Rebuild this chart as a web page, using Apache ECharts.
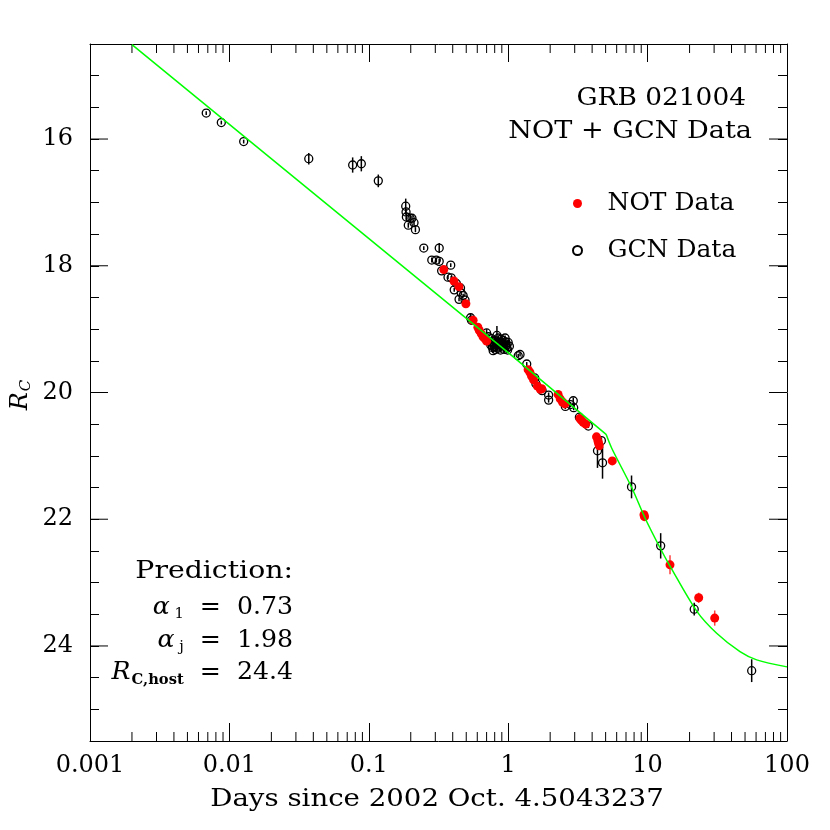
<!DOCTYPE html>
<html>
<head>
<meta charset="utf-8">
<script src="https://cdn.jsdelivr.net/npm/echarts@6/dist/echarts.min.js"></script>
<style>
  html, body { margin: 0; padding: 0; background: #fff; }
  #chart { width: 830px; height: 830px; }
</style>
</head>
<body>
<div id="chart"></div>
<script>
const FONT = 'DejaVu Serif'

// NOT photometry (red filled)
const notDays = [0.345, 0.408, 0.443, 0.497, 0.56, 0.606, 0.62, 0.64, 0.66, 0.68, 0.70,
  1.39, 1.43, 1.47, 1.52, 1.62, 1.70, 1.74, 2.28, 2.36, 2.45, 2.55,
  3.27, 3.35, 3.45, 3.6, 4.3, 4.4, 4.45, 4.5, 5.58, 9.42, 9.5, 14.48, 23.26, 30.3]
const notMag = [18.06, 18.24, 18.33, 18.60, 18.86, 18.97, 19.02, 19.07, 19.12, 19.15, 19.19,
  19.64, 19.68, 19.74, 19.80, 19.90, 19.95, 19.94, 20.03, 20.10, 20.15, 20.18,
  20.41, 20.44, 20.47, 20.50, 20.70, 20.76, 20.80, 20.84, 21.08, 21.93, 21.96, 22.72, 23.24, 23.56]
const notErr = [0.02, 0.02, 0.02, 0.02, 0.02, 0.02, 0.02, 0.02, 0.02, 0.02, 0.02,
  0.03, 0.03, 0.03, 0.03, 0.03, 0.03, 0.03, 0.03, 0.03, 0.03, 0.03,
  0.03, 0.03, 0.03, 0.03, 0.04, 0.04, 0.04, 0.04, 0.03, 0.04, 0.04, 0.15, 0.08, 0.12]

// GCN photometry (open circles)
const gcnDays = [0.00682, 0.00875, 0.01266, 0.0371, 0.0766, 0.0884, 0.117,
  0.184, 0.185, 0.186, 0.198, 0.204, 0.192, 0.211, 0.216, 0.248, 0.320,
  0.283, 0.305, 0.320, 0.387, 0.333, 0.39, 0.37, 0.425, 0.41, 0.455, 0.46, 0.475, 0.444, 0.49,
  0.537, 0.545, 0.70, 0.72, 0.74, 0.76, 0.78, 0.79, 0.80, 0.82, 0.83, 0.84, 0.86, 0.87, 0.88,
  0.89, 0.90, 0.91, 0.93, 0.94, 0.95, 0.96, 0.98, 1.0, 1.02, 0.78,
  0.75, 0.81, 0.85, 0.92, 0.97, 0.99, 0.77, 0.88,
  1.18, 1.216, 1.358, 1.55, 1.58, 1.75, 1.95, 1.95, 2.57, 2.80, 2.93, 2.95, 3.24, 3.76,
  4.66, 4.37, 4.75, 7.67, 12.41, 21.6, 55.8]
const gcnMag = [15.59, 15.74, 16.04, 16.31, 16.41, 16.39, 16.66,
  17.06, 17.15, 17.23, 17.25, 17.25, 17.36, 17.32, 17.43, 17.72, 17.72,
  17.91, 17.91, 17.93, 17.99, 18.08, 18.19, 18.18, 18.28, 18.38, 18.35, 18.43, 18.47, 18.53, 18.54,
  18.82, 18.86, 19.06, 19.12, 19.20, 19.15, 19.22, 19.28, 19.18, 19.25, 19.10, 19.30, 19.20, 19.27, 19.33,
  19.16, 19.22, 19.28, 19.25, 19.32, 19.14, 19.20, 19.30, 19.21, 19.27, 19.34,
  19.25, 19.32, 19.14, 19.18, 19.25, 19.33, 19.29, 19.24,
  19.42, 19.40, 19.55, 19.77, 19.86, 19.97, 20.04, 20.12, 20.22, 20.19, 20.13, 20.24, 20.39, 20.53,
  20.76, 20.92, 21.11, 21.49, 22.42, 23.42, 24.39]
const gcnErr = [0.03, 0.03, 0.03, 0.09, 0.12, 0.12, 0.10,
  0.12, 0.05, 0.05, 0.05, 0.04, 0.04, 0.04, 0.04, 0.03, 0.08,
  0.04, 0.04, 0.04, 0.03, 0.03, 0.03, 0.03, 0.03, 0.03, 0.03, 0.03, 0.03, 0.03, 0.03,
  0.06, 0.03, 0.06, 0.04, 0.04, 0.04, 0.04, 0.04, 0.04, 0.05, 0.15, 0.04, 0.04, 0.04, 0.04,
  0.04, 0.04, 0.04, 0.04, 0.04, 0.04, 0.04, 0.04, 0.04, 0.04, 0.04,
  0.04, 0.04, 0.04, 0.04, 0.04, 0.04, 0.04, 0.04,
  0.03, 0.03, 0.03, 0.03, 0.04, 0.03, 0.04, 0.04, 0.04, 0.04, 0.05, 0.04, 0.05, 0.03,
  0.05, 0.27, 0.25, 0.18, 0.20, 0.10, 0.18]

// model light curve
const modelEarlyDays = [0.002, 1, 5.04]
const modelEarlyMag = [14.51, 19.37, 20.66]
const modelLateDays = [5.04, 5.53, 7.69, 9.58, 12.27, 14.48, 22.5, 31.3, 46, 60.6, 100]
const modelLateMag = [20.66, 20.88, 21.5, 21.98, 22.45, 22.74, 23.45, 23.8, 24.09, 24.22, 24.33]

const xMin = 0.001, xMax = 100
const yMin = 14.5, yMax = 25.5
const decades = [0.001, 0.01, 0.1, 1, 10]
const yMajor = [16, 18, 20, 22, 24]

const xMinorTicks = []
decades.forEach(d => { for (let k = 2; k <= 9; k++) xMinorTicks.push([d * k, 20]) })

const zip = (a, b) => a.map((v, i) => [v, b[i]])
const zip3 = (a, b, c) => a.map((v, i) => [v, b[i], c[i]])

const errBar = color => (params, api) => {
  const t = api.value(0), m = api.value(1), e = api.value(2)
  const p1 = api.coord([t, m - e]), p2 = api.coord([t, m + e])
  return { type: 'line', shape: { x1: p1[0], y1: p1[1], x2: p2[0], y2: p2[1] },
    style: { stroke: color, lineWidth: 1.5 } }
}

// PGPLOT lettering is wider than DejaVu Serif, so stretch the free text a bit
const label = (text, x, y, align, extra) => Object.assign({
  type: 'text', x, y, scaleX: 1.14, originX: 0, originY: 0,
  style: { text, align, verticalAlign: 'middle', font: `24px "${FONT}"`, fill: '#000' }
}, extra || {})

const sub = { fontFamily: FONT, fontSize: 14, padding: [13, 0, 0, 0] }
const ital = { fontFamily: FONT, fontStyle: 'italic', fontSize: 24 }
const norm = { fontFamily: FONT, fontSize: 24 }

const chart = echarts.init(document.getElementById('chart'), null, { renderer: 'canvas' })

const axisText = { fontFamily: FONT, fontSize: 24, color: '#000' }
const frame = { show: true, lineStyle: { color: '#000', width: 1 } }

chart.setOption({
  backgroundColor: '#fff',
  animation: false,
  grid: { left: 90, right: 43, top: 44, bottom: 89 },
  legend: {
    data: ['NOT Data', 'GCN Data'],
    orient: 'vertical',
    left: 567, top: 186,
    itemWidth: 50, itemHeight: 9,
    itemGap: 22,
    textStyle: { fontFamily: FONT, fontSize: 25, color: '#000' }
  },
  xAxis: [{
    type: 'log', logBase: 10, min: xMin, max: xMax, splitNumber: 5,
    axisLine: frame,
    axisTick: { inside: true, length: 18, lineStyle: { color: '#000' } },
    splitLine: { show: false },
    axisLabel: Object.assign({ margin: 13, formatter: v => String(parseFloat(Number(v).toPrecision(6))) }, axisText)
  }, {
    type: 'log', logBase: 10, min: xMin, max: xMax, splitNumber: 5, position: 'top',
    axisLine: frame,
    axisTick: { inside: true, length: 18, lineStyle: { color: '#000' } },
    splitLine: { show: false }, axisLabel: { show: false }
  }],
  yAxis: [{
    type: 'value', inverse: true, min: yMin, max: yMax, interval: 0.5,
    axisLine: frame,
    axisTick: { inside: true, length: 9, lineStyle: { color: '#000' } },
    splitLine: { show: false },
    axisLabel: Object.assign({ margin: 17, formatter: v => (v % 2 === 0 ? String(v) : '') }, axisText)
  }, {
    type: 'value', inverse: true, min: yMin, max: yMax, interval: 0.5, position: 'right',
    axisLine: frame,
    axisTick: { inside: true, length: 9, lineStyle: { color: '#000' } },
    splitLine: { show: false }, axisLabel: { show: false }
  }],
  graphic: [
    label('GRB 021004', 746, 99, 'right', { scaleX: 1.1 }),
    label('NOT + GCN Data', 752, 132, 'right', { scaleX: 1.13 }),
    label('Days since 2002 Oct. 4.5043237', 437, 800, 'center', { scaleX: 1.15 }),
    { type: 'text', x: 21, y: 395, rotation: Math.PI / 2,
      style: { text: '{r|R}{s|C}', align: 'center', verticalAlign: 'middle',
        rich: { r: ital, s: { fontFamily: FONT, fontStyle: 'italic', fontSize: 15, padding: [10, 0, 0, 1] } } } },
    label('Prediction:', 293, 572, 'right', { scaleX: 1.18 }),
    label('{a|α}{s| 1}{n|  =  0.73}', 293, 608, 'right', { scaleX: 1.05, style: { text: '{a|α}{s| 1}{n|  =  0.73}', align: 'right', verticalAlign: 'middle', rich: { a: ital, s: sub, n: norm } } }),
    label('{a|α}{s| j}{n|  =  1.98}', 293, 641, 'right', { scaleX: 1.05, style: { text: '{a|α}{s| j}{n|  =  1.98}', align: 'right', verticalAlign: 'middle', rich: { a: ital, s: sub, n: norm } } }),
    label('{r|R}{s|C,host}{n|  =  24.4}', 293, 673, 'right', { scaleX: 1.05, style: { text: '{r|R}{s|C,host}{n|  =  24.4}', align: 'right', verticalAlign: 'middle', rich: { r: ital, s: Object.assign({}, sub, { fontWeight: 'bold', padding: [14, 0, 0, 1] }), n: norm } } })
  ],
  series: [
    { type: 'custom', name: 'xminor', silent: true, clip: false, data: xMinorTicks,
      renderItem: (params, api) => {
        const b = api.coord([api.value(0), yMax]), t = api.coord([api.value(0), yMin])
        return { type: 'group', children: [
          { type: 'line', shape: { x1: b[0], y1: b[1], x2: b[0], y2: b[1] - 9 }, style: { stroke: '#000', lineWidth: 1 } },
          { type: 'line', shape: { x1: t[0], y1: t[1], x2: t[0], y2: t[1] + 9 }, style: { stroke: '#000', lineWidth: 1 } }
        ] }
      } },
    { type: 'custom', name: 'ymajor', silent: true, clip: false, data: yMajor.map(v => [1, v]),
      renderItem: (params, api) => {
        const l = api.coord([xMin, api.value(1)]), r = api.coord([xMax, api.value(1)])
        return { type: 'group', children: [
          { type: 'line', shape: { x1: l[0], y1: l[1], x2: l[0] + 18, y2: l[1] }, style: { stroke: '#000', lineWidth: 1 } },
          { type: 'line', shape: { x1: r[0], y1: r[1], x2: r[0] - 18, y2: r[1] }, style: { stroke: '#000', lineWidth: 1 } }
        ] }
      } },
    { type: 'custom', name: 'gcnErr', silent: true, data: zip3(gcnDays, gcnMag, gcnErr), renderItem: errBar('#000') },
    { type: 'scatter', name: 'GCN Data', data: zip(gcnDays, gcnMag), symbol: 'circle', symbolSize: 8,
      itemStyle: { color: 'rgba(255,255,255,0)', borderColor: '#000', borderWidth: 1.3, opacity: 1 } },
    { type: 'custom', name: 'notErr', silent: true, data: zip3(notDays, notMag, notErr), renderItem: errBar('#ff4040') },
    { type: 'scatter', name: 'NOT Data', data: zip(notDays, notMag), symbol: 'circle', symbolSize: 9,
      itemStyle: { color: '#ff0000', opacity: 1 } },
    { type: 'line', name: 'model1', data: zip(modelEarlyDays, modelEarlyMag), showSymbol: false, symbol: 'none',
      lineStyle: { color: '#00ff00', width: 1.5 }, z: 5 },
    { type: 'line', name: 'model2', data: zip(modelLateDays, modelLateMag), showSymbol: false, symbol: 'none', smooth: 0.3,
      lineStyle: { color: '#00ff00', width: 1.5 }, z: 5 }
  ]
})
</script>
</body>
</html>
